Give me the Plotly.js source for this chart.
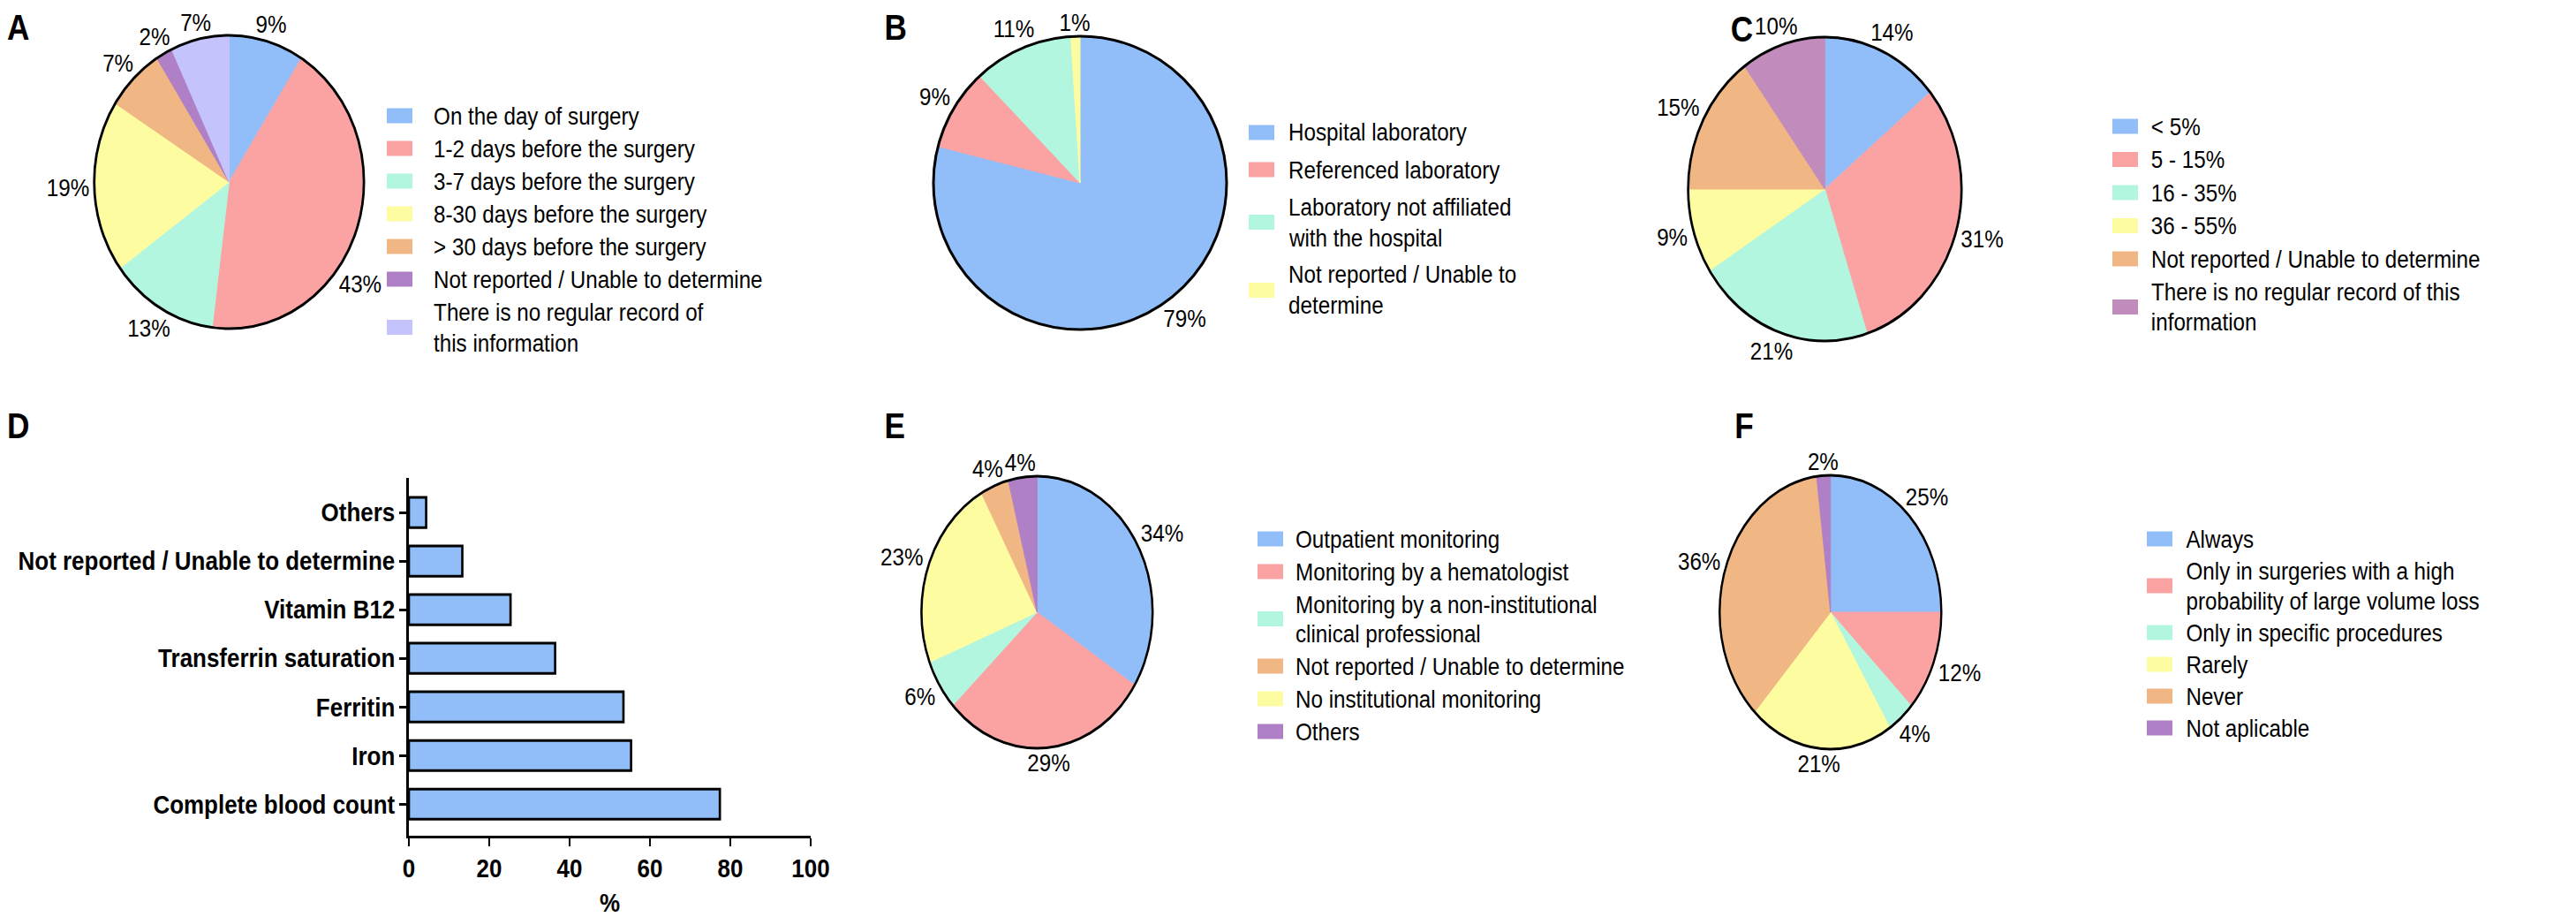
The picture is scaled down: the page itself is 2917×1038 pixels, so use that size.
<!DOCTYPE html>
<html><head><meta charset="utf-8">
<script src="https://cdn.plot.ly/plotly-3.0.1.min.js"></script>
<style>html,body{margin:0;padding:0;background:#fff;overflow:hidden}
#root{position:relative;width:2917px;height:1038px;overflow:hidden;background:#fff}
#chart{position:absolute;left:0;top:0;width:3315px;height:1038px;transform:scaleX(0.88);transform-origin:0 0}
.piebox{position:absolute;transform-origin:0 0;z-index:2}</style>
</head><body><div id="root"><div id="chart"></div></div>
<script>
// ---------- colours ----------
const BLUE='#91bef8', RED='#fba3a3', MINT='#b3f6df', YELLOW='#fefca1', ORANGE='#f0b784', PURPLE='#af80c5', LAVENDER='#c5c3fc', MAUVE='#c18bbb';

// ---------- Panel A ----------
const aLabels = ['On the day of surgery','1-2 days before the surgery','3-7 days before the surgery','8-30 days before the surgery','&gt; 30 days before the surgery','Not reported / Unable to determine','There is no regular record of<br>this information'];
const aValues = [9,43,13,19,7,2,7];
const aColors = [BLUE,RED,MINT,YELLOW,ORANGE,PURPLE,LAVENDER];

// ---------- Panel B ----------
const bLabels = ['Hospital laboratory','Referenced laboratory','Laboratory not affiliated<br>with the hospital','Not reported / Unable to<br>determine'];
const bValues = [79,9,11,1];
const bColors = [BLUE,RED,MINT,YELLOW];

// ---------- Panel C ----------
const cLabels = ['&lt; 5%','5 - 15%','16 - 35%','36 - 55%','Not reported / Unable to determine','There is no regular record of this<br>information'];
const cValues = [14,31,21,9,15,10];
const cColors = [BLUE,RED,MINT,YELLOW,ORANGE,MAUVE];

// ---------- Panel D ----------
const dCategories = ['Complete blood count','Iron','Ferritin','Transferrin saturation','Vitamin B12','Not reported / Unable to determine','Others'];
const dValues = [77.4,55.3,53.4,36.4,25.3,13.3,4.3];
const dTicks = [0,20,40,60,80,100];

// ---------- Panel E ----------
const eLabels = ['Outpatient monitoring','Monitoring by a hematologist','Monitoring by a non-institutional<br>clinical professional','Not reported / Unable to determine','No institutional monitoring','Others'];
const eValues = [34,29,6,4,23,4];
const eColors = [BLUE,RED,MINT,ORANGE,YELLOW,PURPLE];
const eSliceOrder = [0,1,2,4,3,5];

// ---------- Panel F ----------
const fLabels = ['Always','Only in surgeries with a high<br>probability of large volume loss','Only in specific procedures','Rarely','Never','Not aplicable'];
const fValues = [25,12,4,21,36,2];
const fColors = [BLUE,RED,MINT,YELLOW,ORANGE,PURPLE];

// ---------- geometry ----------
// Text layer is drawn on a wider canvas and squeezed horizontally (as in the reference);
// every pie is drawn in its own box with its own horizontal squeeze (the reference pies are ellipses).
const S = 0.88, WU = 3315, H = 1038;
const W = WU * S;
const FONT = 'Liberation Sans, Arial, sans-serif';
const FS_TXT = 27.5, FS_BOLD = 29.5, FS_LETTER = 40;
const PAD = 4;
const px = x => x / W;
const py = y => 1 - y / H;

const pies = [
  {id:'A', letter:'A', lx:6,    ly:31,  labels:aLabels, values:aValues, colors:aColors, cx:259,  cy:206, r:166, s:0.92, leg:{sx:438,  tx:489,  y0:131, item:37,   wrap:35}},
  {id:'B', letter:'B', lx:1000, ly:31,  labels:bLabels, values:bValues, colors:bColors, cx:1223, cy:207, r:166, s:1.0,  leg:{sx:1414, tx:1457, y0:150, item:42,   wrap:35}},
  {id:'C', letter:'C', lx:1958, ly:33,  labels:cLabels, values:cValues, colors:cColors, cx:2066, cy:214, r:172, s:0.9,  leg:{sx:2392, tx:2434, y0:143, item:37.5, wrap:34}},
  {id:'E', letter:'E', lx:1000, ly:482, labels:eLabels, values:eValues, colors:eColors, order:eSliceOrder, cx:1174, cy:693, r:154, s:0.85, leg:{sx:1424, tx:1465, y0:610, item:37, wrap:33}},
  {id:'F', letter:'F', lx:1962, ly:482, labels:fLabels, values:fValues, colors:fColors, cx:2073, cy:693, r:155, s:0.81, leg:{sx:2431, tx:2474, y0:610, item:36, wrap:34}}
];

const shapes = [];
const annotations = [];
const txtFont = {family:FONT, size:FS_TXT, color:'#000'};

pies.forEach(p => {
  const order = p.order || p.labels.map((_, i) => i);
  const sliceColors = order.map(i => p.colors[i]);

  // ---- the pie itself, in its own squeezed box ----
  const D = 2 * (p.r + PAD);
  const box = document.createElement('div');
  box.className = 'piebox';
  box.id = 'pie' + p.id;
  box.style.left = (p.cx - (p.r + PAD) * p.s) + 'px';
  box.style.top = (p.cy - p.r - PAD) + 'px';
  box.style.width = D + 'px';
  box.style.height = D + 'px';
  box.style.transform = 'scaleX(' + p.s + ')';
  document.getElementById('root').appendChild(box);
  const f = PAD / D;
  Plotly.newPlot(box, [{
    type:'pie', sort:false, direction:'clockwise', rotation:0,
    labels: order.map(i => p.labels[i].replace('<br>', ' ')),
    values: order.map(i => p.values[i]),
    marker:{colors: sliceColors, line:{color: sliceColors, width:1}},
    textinfo:'none', domain:{x:[f, 1 - f], y:[f, 1 - f]}, showlegend:false, hoverinfo:'label+value'
  }], {
    width:D, height:D, margin:{l:0, r:0, t:0, b:0},
    paper_bgcolor:'rgba(0,0,0,0)', plot_bgcolor:'rgba(0,0,0,0)', showlegend:false,
    shapes:[{type:'circle', xref:'paper', yref:'paper', x0:f, x1:1 - f, y0:f, y1:1 - f,
      line:{color:'#000', width:3}, fillcolor:'rgba(0,0,0,0)', layer:'above'}]
  }, {displayModeBar:false, staticPlot:true});

  // ---- percentage labels just outside each slice (middle angle, nudged along the arc if it would hit the legend) ----
  const total = order.reduce((s, i) => s + p.values[i], 0);
  const a = p.r * p.s, b = p.r;
  const legendLeft = p.leg.sx - 6;
  let cum = 0;
  order.forEach(i => {
    const v = p.values[i];
    const startAng = cum / total * 2 * Math.PI;
    const endAng = (cum + v) / total * 2 * Math.PI;
    cum += v;
    const txt = v + '%';
    const w = ((txt.length - 1) * 0.556 + 0.889) * FS_TXT * S;
    const h = 0.72 * FS_TXT;
    const place = ang => {
      const sn = Math.sin(ang), cs = Math.cos(ang);
      const off = 5 + Math.abs(sn) * w / 2 + Math.abs(cs) * h / 2;
      return [p.cx + (a + off) * sn, p.cy - (b + off) * cs];
    };
    let ang = (startAng + endAng) / 2;
    let pos = place(ang);
    while (pos[0] + w / 2 > legendLeft && ang + 0.035 < endAng) {
      ang += 0.035;
      pos = place(ang);
    }
    annotations.push({xref:'paper', yref:'paper', x:px(pos[0]), y:py(pos[1]),
      xanchor:'center', yanchor:'middle', showarrow:false, text:txt, font:txtFont});
  });

  // ---- legend ----
  let wraps = 0;
  p.labels.forEach((lab, i) => {
    const lines = lab.split('<br>');
    const yFirst = p.leg.y0 + i * p.leg.item + wraps * p.leg.wrap;
    const yLast = yFirst + (lines.length - 1) * p.leg.wrap;
    const yc = (yFirst + yLast) / 2;
    shapes.push({type:'rect', xref:'paper', yref:'paper', layer:'above',
      x0:px(p.leg.sx), x1:px(p.leg.sx + 29), y0:py(yc + 8.5), y1:py(yc - 8.5),
      fillcolor:p.colors[i], line:{width:0}});
    lines.forEach((t, j) => {
      annotations.push({xref:'paper', yref:'paper', x:px(p.leg.tx), y:py(yFirst + j * p.leg.wrap),
        xanchor:'left', yanchor:'middle', showarrow:false, text:t, font:txtFont});
    });
    wraps += lines.length - 1;
  });
  annotations.push({xref:'paper', yref:'paper', x:px(p.lx), y:py(p.ly), xanchor:'left', yanchor:'middle',
    showarrow:false, text:p.letter, font:{family:FONT, size:FS_LETTER, color:'#000', weight:'bold'}});
});

// ---------- Panel D: horizontal bar chart ----------
const data = [{
  type:'bar', orientation:'h', x:dValues, y:dCategories, width:0.62,
  marker:{color:BLUE, line:{color:'#000', width:3}},
  xaxis:'x', yaxis:'y', showlegend:false, hoverinfo:'x+y'
}];
annotations.push({xref:'paper', yref:'paper', x:px(6), y:py(482), xanchor:'left', yanchor:'middle',
  showarrow:false, text:'D', font:{family:FONT, size:FS_LETTER, color:'#000', weight:'bold'}});

const boldTick = {family:FONT, size:FS_BOLD, color:'#000', weight:'bold'};
const layout = {
  width:WU, height:H, margin:{l:0, r:0, t:0, b:0},
  paper_bgcolor:'#fff', plot_bgcolor:'rgba(0,0,0,0)', showlegend:false,
  font:{family:FONT, color:'#000'},
  xaxis:{domain:[px(463), px(918)], range:[0,100], tickvals:dTicks, ticks:'outside', ticklen:9, tickwidth:3,
    tickcolor:'#000', showline:true, linewidth:3, linecolor:'#000', showgrid:false, zeroline:false,
    tickfont:boldTick, title:{text:'%', font:boldTick, standoff:16}, anchor:'y', fixedrange:true},
  yaxis:{domain:[py(946), py(541)], type:'category', categoryorder:'array', categoryarray:dCategories,
    range:[-0.65, 6.71], ticks:'outside', ticklen:9, tickwidth:3, tickcolor:'#000', showline:true,
    linewidth:3, linecolor:'#000', showgrid:false, zeroline:false, tickfont:boldTick, anchor:'x', fixedrange:true},
  shapes:shapes, annotations:annotations
};

Plotly.newPlot('chart', data, layout, {displayModeBar:false, staticPlot:true});
</script>
</body></html>
